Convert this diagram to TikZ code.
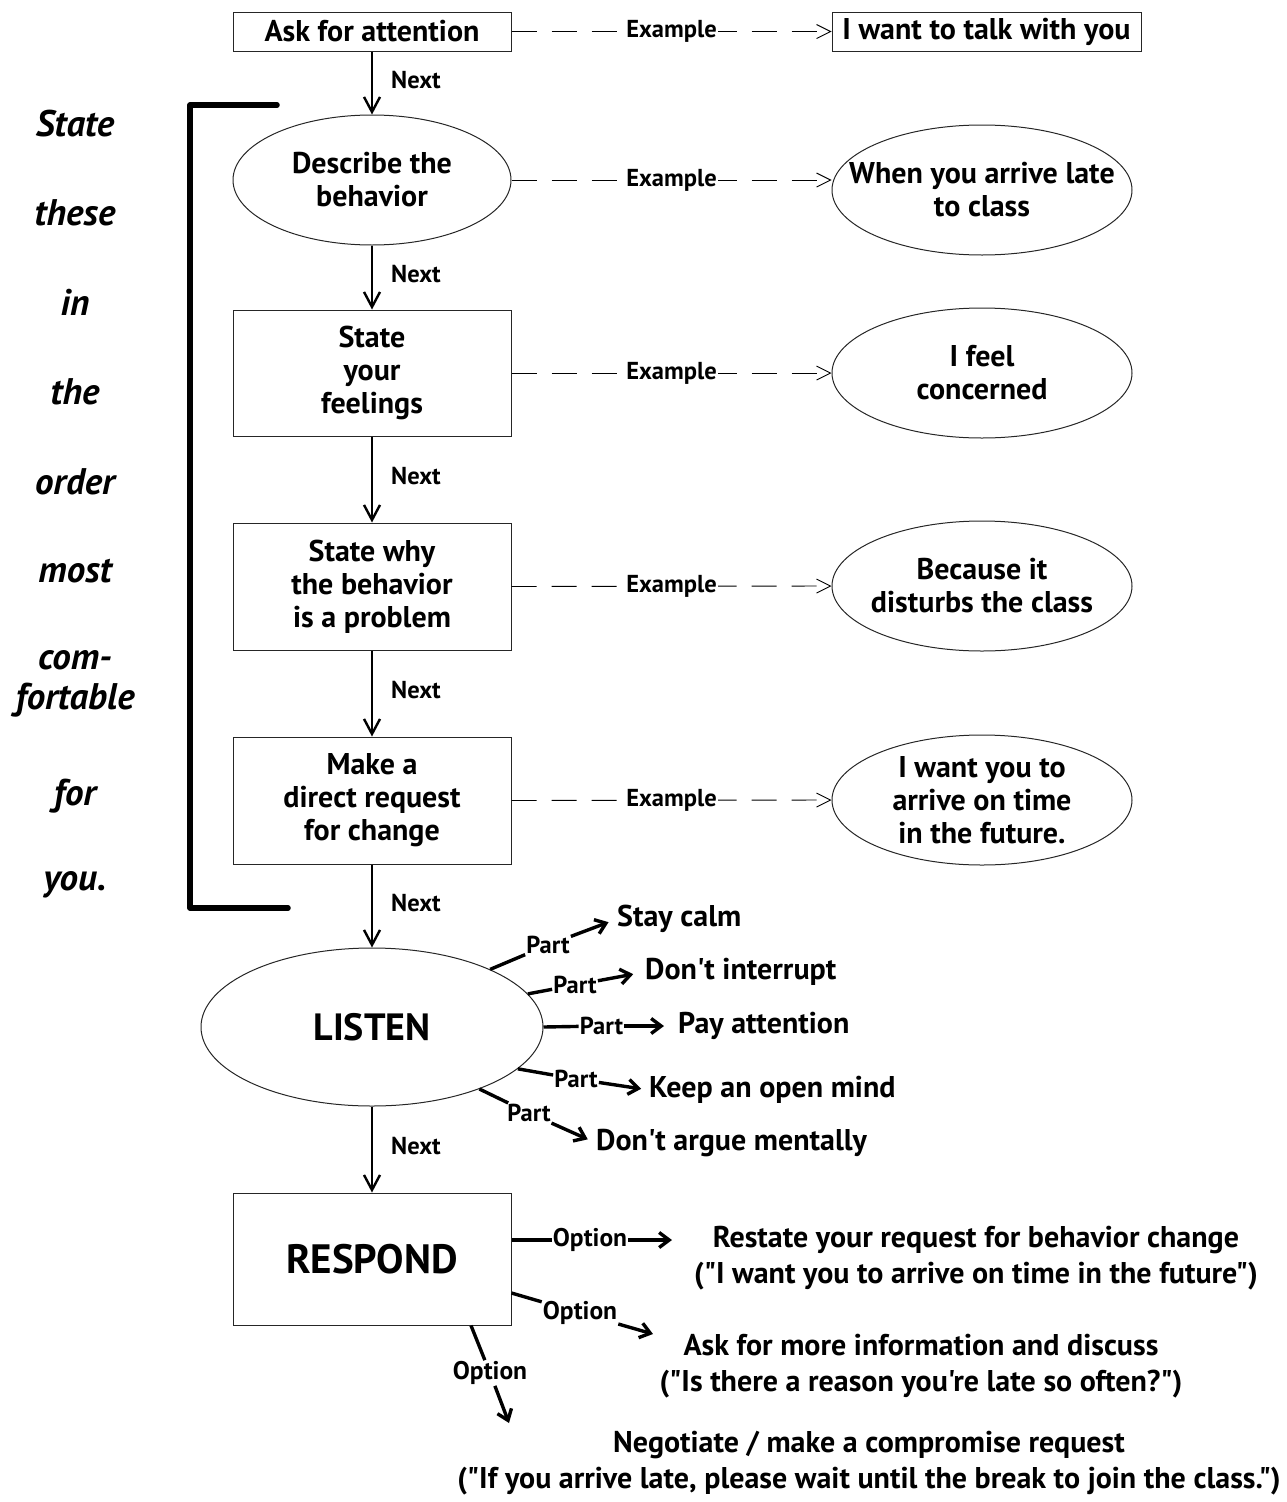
\documentclass[tikz,border=0pt]{standalone}
\usepackage{fontspec}
\setmainfont{PT Sans}[Ligatures=TeXOff]
\usetikzlibrary{shapes.geometric,arrows.meta}

% font sizes used in the chart
\newcommand\dgText{\fontsize{30}{33}\selectfont\bfseries}
\newcommand\dgOpt{\fontsize{30}{36}\selectfont\bfseries}
\newcommand\dgLabel{\fontsize{24.5}{27}\selectfont\bfseries}
\newcommand\dgOptLabel{\fontsize{25.5}{28}\selectfont\bfseries}
\newcommand\dgTitle{\fontsize{38}{40}\selectfont\bfseries}
\newcommand\dgTitleB{\fontsize{41}{44}\selectfont\bfseries}
\newcommand\dgSide{\fontsize{37}{40}\selectfont\bfseries\itshape}

\tikzset{
  stepbox/.style={draw=black!85, line width=1pt, minimum width=278pt,
    align=center, font=\dgText, inner sep=0pt},
  stepoval/.style={ellipse, draw=black!85, line width=1pt, align=center,
    font=\dgText, inner xsep=-40pt, inner ysep=-20pt},
  exoval/.style={stepoval, minimum width=300pt, minimum height=130pt},
  lbl/.style={font=\dgLabel, inner sep=1pt},
  optlbl/.style={font=\dgOptLabel, inner sep=1pt},
  exlbl/.style={lbl, fill=white, inner sep=1.5pt},
  item/.style={font=\dgText, inner sep=0pt, anchor=west},
  opttext/.style={font=\dgOpt, inner sep=0pt, align=center},
  sideword/.style={font=\dgSide, inner sep=0pt},
  nextarrow/.style={line width=2.4pt, -{Straight Barb[length=15pt,width=16pt]}},
  exarrow/.style={line width=0.9pt, dash pattern=on 25pt off 15pt,
    -{Straight Barb[length=14pt,width=14pt]}},
  partline/.style={line width=3.4pt},
  partarrow/.style={line width=3.4pt, -{Straight Barb[length=10pt,width=15pt]}},
  nextlbl/.style={lbl, anchor=west, xshift=17pt, yshift=3pt},
}

\begin{document}
\begin{tikzpicture}[x=1pt,y=-1pt]
\useasboundingbox (0,0) rectangle (1287,1502);

% main column
\node[stepbox, minimum height=39pt] (ask) at (372,31.5) {Ask for attention};
\node[stepoval, minimum width=278pt, minimum height=130pt] (describe) at (372,180) {Describe the\\behavior};
\node[stepbox, minimum height=126pt] (feel) at (372,373) {State\\your\\feelings};
\node[stepbox, minimum height=127pt] (why) at (372,586.5) {State why\\the behavior\\is a problem};
\node[stepbox, minimum height=127pt] (request) at (372,800.5) {Make a\\direct request\\for change};
\node[stepoval, minimum width=342pt, minimum height=158pt, font=\dgTitle] (listen) at (372,1027) {LISTEN};
\node[stepbox, minimum height=132pt, font=\dgTitleB] (respond) at (372,1259) {RESPOND};

% examples
\node[stepbox, minimum width=309pt, minimum height=39pt] (talk) at (986.5,31.5) {I want to talk with you};
\node[exoval] (late) at (982,190) {When you arrive late\\to class};
\node[exoval] (concern) at (982,373) {I feel\\concerned};
\node[exoval] (disturb) at (982,586) {Because it\\disturbs the class};
\node[exoval] (ontime) at (982,800) {I want you to\\arrive on time\\in the future.};

% sequence
\draw[nextarrow] (ask) -- (describe) node[nextlbl, midway] {Next};
\draw[nextarrow] (describe) -- (feel) node[nextlbl, midway] {Next};
\draw[nextarrow] (feel) -- (why) node[nextlbl, midway] {Next};
\draw[nextarrow] (why) -- (request) node[nextlbl, midway] {Next};
\draw[nextarrow] (request) -- (listen) node[nextlbl, midway] {Next};
\draw[nextarrow] (listen) -- (respond) node[nextlbl, midway] {Next};

% example links
\draw[exarrow] (ask.east) -- (talk.west) node[exlbl, midway] {Example};
\draw[exarrow] (describe.east) -- (describe.east -| late.west) node[exlbl, midway] {Example};
\draw[exarrow] (feel.east) -- (concern.west) node[exlbl, midway] {Example};
\draw[exarrow] (why.east) -- (disturb.west) node[exlbl, midway] {Example};
\draw[exarrow] (request.east) -- (ontime.west) node[exlbl, midway] {Example};

% bracket and side note
\draw[line width=5.5pt, line cap=round, line join=round] (277,105) -- (190,105) -- (190,908) -- (288,908);
\node[sideword] (s1) at (75,124) {State};
\node[sideword] (s2) at (75,213) {these};
\node[sideword] (s3) at (75,302) {in};
\node[sideword] (s4) at (75,392) {the};
\node[sideword] (s5) at (75,482) {order};
\node[sideword] (s6) at (75,571) {most};
\node[sideword] (s7) at (75,660) {com-};
\node[sideword] (s8) at (75,700) {fortable};
\node[sideword] (s9) at (75,796) {for};
\node[sideword] (s10) at (75,885) {you.};

% parts of listening
\node[lbl] (p1) at (548,945) {Part};
\node[lbl] (p2) at (575,985) {Part};
\node[lbl] (p3) at (601.5,1026) {Part};
\node[lbl] (p4) at (576,1079) {Part};
\node[lbl] (p5) at (529,1113) {Part};
\node[item] (i1) at (617,919) {Stay calm};
\node[item] (i2) at (645,972) {Don't interrupt};
\node[item] (i3) at (678,1026) {Pay attention};
\node[item] (i4) at (649,1090) {Keep an open mind};
\node[item] (i5) at (596,1143) {Don't argue mentally};
\draw[partline] (listen.26) -- (p1);
\draw[partline] (listen.12) -- (p2);
\draw[partline] (listen.0) -- (p3);
\draw[partline] (listen.-16) -- (p4);
\draw[partline] (listen.-30) -- (p5);
\draw[partarrow, shorten >=9pt] (p1) -- (i1.west);
\draw[partarrow, shorten >=12pt] (p2) -- (i2.west);
\draw[partarrow, shorten >=14pt] (p3) -- (i3.west);
\draw[partarrow, shorten >=8pt] (p4) -- (i4.west);
\draw[partarrow, shorten >=9pt] (p5) -- (i5.west);

% response options
\node[optlbl] (o1) at (590,1240) {Option};
\node[optlbl] (o2) at (580,1313) {Option};
\node[optlbl] (o3) at (490,1373) {Option};
\node[opttext] (r1) at (976,1258) {Restate your request for behavior change\\("I want you to arrive on time in the future")};
\node[opttext] (r2) at (921,1366) {Ask for more information and discuss\\("Is there a reason you're late so often?")};
\node[opttext] (r3) at (869,1463) {Negotiate / make a compromise request\\("If you arrive late, please wait until the break to join the class.")};
\coordinate (t1) at (672,1240);
\coordinate (t2) at (653,1334);
\coordinate (t3) at (509,1423);
\draw[partline] ([yshift=19pt]respond.east) -- (o1);
\draw[partline] ([yshift=-34pt]respond.east) -- (o2);
\draw[partline] ([xshift=99pt]respond.south) -- (o3);
\draw[partarrow] (o1) -- (t1);
\draw[partarrow] (o2) -- (t2);
\draw[partarrow] (o3) -- (t3);
\end{tikzpicture}
\end{document}
